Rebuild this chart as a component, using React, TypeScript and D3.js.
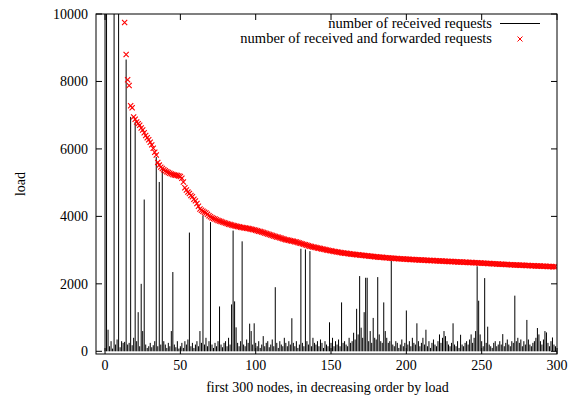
import React from 'react';
import { scaleLinear } from 'd3';

// load per node: number of received requests (impulses)
const received = [
  12000, 11000, 640, 150, 300, 80, 11000, 200, 350, 10500,
  120, 300, 250, 280, 8650, 200, 250, 6950, 180, 400,
  6800, 300, 1160, 150, 2000, 600, 4500, 200, 100, 150,
  250, 120, 180, 300, 5760, 150, 5020, 200, 5430, 300,
  200, 100, 250, 150, 600, 2350, 200, 120, 300, 80,
  150, 250, 100, 300, 200, 350, 3520, 150, 250, 100,
  200, 300, 150, 600, 250, 4030, 200, 400, 150, 300,
  3830, 200, 100, 250, 150, 300, 1330, 200, 120, 250,
  300, 150, 400, 200, 1390, 3580, 1480, 710, 250, 150,
  300, 3260, 200, 150, 350, 250, 820, 600, 200, 830,
  250, 150, 300, 100, 200, 450, 150, 250, 300, 120,
  200, 350, 150, 1900, 250, 100, 300, 200, 150, 400,
  250, 150, 300, 200, 980, 250, 150, 300, 100, 200,
  3040, 250, 150, 3020, 300, 200, 2970, 150, 400, 250,
  200, 300, 150, 350, 250, 100, 300, 200, 150, 860,
  250, 400, 150, 300, 200, 350, 150, 1450, 250, 300,
  200, 150, 400, 250, 300, 550, 350, 1260, 500, 2230,
  700, 400, 1160, 2180, 2180, 300, 600, 250, 990, 400,
  350, 2200, 500, 300, 250, 1450, 600, 400, 250, 300,
  2690, 200, 150, 300, 250, 100, 200, 350, 150, 250,
  1210, 200, 300, 150, 400, 250, 200, 830, 300, 150,
  250, 400, 200, 640, 150, 300, 100, 250, 350, 200,
  150, 300, 500, 250, 400, 600, 450, 300, 200, 150,
  250, 830, 200, 150, 300, 100, 490, 200, 150, 250,
  300, 200, 350, 500, 250, 400, 600, 2520, 1500, 500,
  300, 150, 2170, 250, 730, 200, 150, 100, 250, 300,
  150, 200, 300, 200, 510, 150, 250, 350, 200, 150,
  300, 250, 1650, 300, 400, 250, 350, 150, 300, 200,
  930, 350, 200, 150, 250, 300, 400, 690, 500, 300,
  200, 350, 600, 560, 250, 150, 300, 410, 200, 150,
];

// received + forwarded (red crosses)
const forwarded = [
  40000, 30000, 25000, 20000, 18000, 16000, 15000, 14000, 13000, 12000,
  11500, 11000, 10500, 9750, 8800, 8050, 7880, 7280, 7220, 6950,
  6880, 6800, 6750, 6700, 6620, 6560, 6480, 6400, 6330, 6270,
  6200, 6120, 6020, 5900, 5820, 5600, 5520, 5460, 5420, 5380,
  5350, 5320, 5300, 5280, 5260, 5240, 5230, 5220, 5210, 5200,
  5180, 5130, 5020, 4850, 4780, 4720, 4680, 4620, 4580, 4510,
  4460, 4380, 4300, 4220, 4180, 4150, 4120, 4100, 4060, 4020,
  3990, 3960, 3940, 3920, 3900, 3880, 3860, 3850, 3830, 3815,
  3800, 3785, 3770, 3760, 3745, 3730, 3720, 3710, 3700, 3690,
  3680, 3670, 3665, 3655, 3650, 3640, 3630, 3620, 3610, 3600,
  3590, 3575, 3560, 3550, 3535, 3520, 3505, 3490, 3480, 3465,
  3450, 3435, 3420, 3405, 3390, 3380, 3365, 3350, 3340, 3325,
  3310, 3300, 3290, 3280, 3270, 3260, 3250, 3240, 3225, 3210,
  3200, 3185, 3170, 3160, 3145, 3130, 3115, 3105, 3095, 3085,
  3075, 3065, 3055, 3045, 3035, 3025, 3015, 3005, 2995, 2985,
  2980, 2970, 2960, 2955, 2945, 2940, 2930, 2925, 2915, 2910,
  2905, 2900, 2890, 2885, 2880, 2875, 2870, 2865, 2860, 2855,
  2850, 2845, 2840, 2835, 2830, 2825, 2820, 2815, 2810, 2805,
  2800, 2795, 2790, 2790, 2785, 2780, 2775, 2775, 2770, 2765,
  2760, 2760, 2755, 2750, 2750, 2745, 2740, 2740, 2735, 2735,
  2730, 2730, 2725, 2725, 2720, 2720, 2715, 2715, 2710, 2710,
  2705, 2705, 2700, 2700, 2695, 2695, 2690, 2690, 2690, 2685,
  2685, 2680, 2680, 2675, 2675, 2670, 2670, 2665, 2665, 2660,
  2660, 2660, 2655, 2655, 2650, 2650, 2645, 2645, 2640, 2640,
  2638, 2636, 2634, 2632, 2630, 2628, 2625, 2622, 2620, 2617,
  2615, 2612, 2610, 2607, 2604, 2602, 2600, 2597, 2594, 2592,
  2590, 2587, 2584, 2582, 2580, 2577, 2574, 2572, 2570, 2567,
  2564, 2562, 2560, 2558, 2556, 2554, 2552, 2550, 2548, 2546,
  2544, 2542, 2540, 2538, 2536, 2534, 2532, 2530, 2528, 2526,
  2524, 2522, 2520, 2518, 2516, 2514, 2512, 2510, 2508, 2506,
];

const xTicks = [0, 50, 100, 150, 200, 250, 300];
const yTicks = [0, 2000, 4000, 6000, 8000, 10000];

const txt = { fontFamily: "'Liberation Serif'", fontSize: 14 };
const legendTxt = { fontFamily: "'Liberation Serif'", fontSize: 14.5 };

function App() {
  const width = 580;
  const height = 403;
  const left = 96, right = 557, top = 14, bottom = 354;

  const x = scaleLinear().domain([-6, 300]).range([left, right]);
  const y = scaleLinear().domain([-80, 10000]).range([bottom, top]);
  const tick = 6;

  return (
    <svg width={width} height={height} style={{ position: 'absolute', left: 0, top: 0, background: '#fff' }}>
      <defs>
        <clipPath id="plot">
          <rect x={left} y={top} width={right - left} height={bottom - top} />
        </clipPath>
      </defs>

      {/* impulses */}
      <g clipPath="url(#plot)" stroke="#000" strokeWidth={1}>
        {received.map((v, i) => (
          <line key={i} x1={x(i)} x2={x(i)} y1={y(0)} y2={y(v)} />
        ))}
      </g>

      {/* crosses */}
      <g clipPath="url(#plot)" stroke="#f00" strokeWidth={1.1} fill="none">
        {forwarded.map((v, i) => {
          const cx = x(i), cy = y(v);
          if (v > 10000) return null;
          return <path key={i} d={`M${cx - 2.6},${cy - 2.6}L${cx + 2.6},${cy + 2.6}M${cx - 2.6},${cy + 2.6}L${cx + 2.6},${cy - 2.6}`} />;
        })}
      </g>

      {/* ticks, mirrored on all sides */}
      <g stroke="#000" strokeWidth={1}>
        {yTicks.map(t => (
          <g key={t}>
            <line x1={left} x2={left + tick} y1={y(t)} y2={y(t)} />
            <line x1={right} x2={right - tick} y1={y(t)} y2={y(t)} />
          </g>
        ))}
        {xTicks.map(t => (
          <g key={t}>
            <line x1={x(t)} x2={x(t)} y1={bottom} y2={bottom - tick} />
            <line x1={x(t)} x2={x(t)} y1={top} y2={top + tick} />
          </g>
        ))}
      </g>

      <rect x={left} y={top} width={right - left} height={bottom - top} fill="none" stroke="#000" strokeWidth={1} />

      {yTicks.map(t => (
        <text key={t} style={txt} x={left - 8} y={y(t)} dy="0.35em" textAnchor="end">{t}</text>
      ))}
      {xTicks.map(t => (
        <text key={t} style={txt} x={x(t)} y={bottom + 16} textAnchor="middle">{t}</text>
      ))}

      <text style={txt} x={(left + right) / 2 + 1} y={392} textAnchor="middle">first 300 nodes, in decreasing order by load</text>
      <text style={txt} transform={`translate(25,${(top + bottom) / 2}) rotate(-90)`} textAnchor="middle">load</text>

      {/* legend */}
      <text style={legendTxt} x={492} y={28} textAnchor="end">number of received requests</text>
      <line x1={500} x2={540} y1={23.5} y2={23.5} stroke="#000" strokeWidth={1} />
      <text style={legendTxt} x={492} y={43} textAnchor="end">number of received and forwarded requests</text>
      <path d="M517.5,36.5L522.5,41.5M517.5,41.5L522.5,36.5" stroke="#f00" strokeWidth={1} />
    </svg>
  );
}

export default App;
